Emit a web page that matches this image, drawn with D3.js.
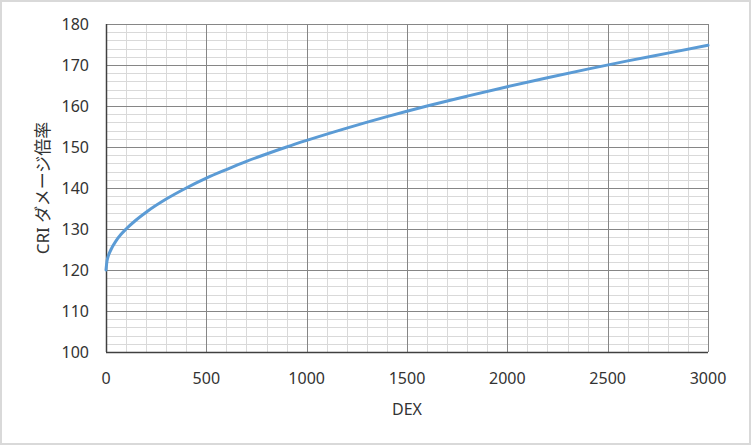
<!DOCTYPE html>
<html>
<head>
<meta charset="utf-8">
<script src="https://cdn.jsdelivr.net/npm/d3@7"></script>
<style>
  body { margin: 0; background: #fff; }
  svg { display: block; font-family: "Noto Sans", "Noto Sans CJK JP", sans-serif; }
</style>
</head>
<body>
<div id="chart"></div>
<script>
// DEX values
var dex = [0, 5, 10, 25, 50, 75, 100, 150, 200, 300, 400, 500, 600, 700, 800, 900,
           1000, 1200, 1400, 1600, 1800, 2000, 2200, 2400, 2600, 2800, 3000];
var critMult = [120, 122.2, 123.2, 125, 127.1, 128.7, 130, 132.2, 134.1, 137.3, 140, 142.4,
                144.5, 146.5, 148.3, 150, 151.6, 154.6, 157.4, 160, 162.4, 164.7, 166.9,
                169, 171, 172.9, 174.8];
var xTicks = [0, 500, 1000, 1500, 2000, 2500, 3000];
var yTicks = [100, 110, 120, 130, 140, 150, 160, 170, 180];

var width = 751, height = 445;
var margin = { left: 106, right: 43, top: 24, bottom: 93 };

var svg = d3.select("#chart").append("svg")
    .attr("width", width)
    .attr("height", height);

svg.append("rect")
    .attr("x", 1).attr("y", 1)
    .attr("width", width - 2).attr("height", height - 2)
    .attr("fill", "#fff")
    .attr("stroke", "#d9d9d9")
    .attr("stroke-width", 2);

var x = d3.scaleLinear().domain([0, 3000]).range([margin.left, width - margin.right]);
var y = d3.scaleLinear().domain([100, 180]).range([height - margin.bottom, margin.top]);

var g = svg.append("g");

// minor grid
g.selectAll(".minor-x")
    .data(d3.range(0, 3001, 100).filter(function (d) { return d % 500; }))
  .enter().append("line")
    .attr("x1", function (d) { return Math.round(x(d)) + 0.5; })
    .attr("x2", function (d) { return Math.round(x(d)) + 0.5; })
    .attr("y1", y(100)).attr("y2", y(180))
    .attr("stroke", "#d9d9d9");

g.selectAll(".minor-y")
    .data(d3.range(100, 181, 2).filter(function (d) { return d % 10; }))
  .enter().append("line")
    .attr("y1", function (d) { return Math.round(y(d)) + 0.5; })
    .attr("y2", function (d) { return Math.round(y(d)) + 0.5; })
    .attr("x1", x(0)).attr("x2", x(3000))
    .attr("stroke", "#d9d9d9");

// major grid
g.selectAll(".major-x")
    .data(xTicks.slice(1))
  .enter().append("line")
    .attr("x1", function (d) { return Math.round(x(d)) + 0.5; })
    .attr("x2", function (d) { return Math.round(x(d)) + 0.5; })
    .attr("y1", y(100)).attr("y2", y(180))
    .attr("stroke", "#868686");

g.selectAll(".major-y")
    .data(yTicks.slice(1))
  .enter().append("line")
    .attr("y1", function (d) { return Math.round(y(d)) + 0.5; })
    .attr("y2", function (d) { return Math.round(y(d)) + 0.5; })
    .attr("x1", x(0)).attr("x2", x(3000))
    .attr("stroke", "#868686");

// axes lines
g.append("line")
    .attr("x1", x(0)).attr("x2", x(3000))
    .attr("y1", Math.round(y(100)) + 0.5).attr("y2", Math.round(y(100)) + 0.5)
    .attr("stroke", "#404040").attr("stroke-width", 1.5);
g.append("line")
    .attr("x1", x(0) + 0.5).attr("x2", x(0) + 0.5)
    .attr("y1", y(100)).attr("y2", y(180))
    .attr("stroke", "#404040").attr("stroke-width", 1.5);

// tick labels
g.selectAll(".xlab")
    .data(xTicks)
  .enter().append("text")
    .attr("x", function (d) { return x(d); })
    .attr("y", y(100) + 32)
    .attr("text-anchor", "middle")
    .attr("font-size", 16)
    .attr("fill", "#333")
    .text(function (d) { return d; });

g.selectAll(".ylab")
    .data(yTicks)
  .enter().append("text")
    .attr("x", x(0) - 17)
    .attr("y", function (d) { return y(d); })
    .attr("dy", "0.36em")
    .attr("text-anchor", "end")
    .attr("font-size", 16)
    .attr("fill", "#333")
    .text(function (d) { return d; });

// axis titles
svg.append("text")
    .attr("x", (x(0) + x(3000)) / 2)
    .attr("y", y(100) + 63)
    .attr("text-anchor", "middle")
    .attr("font-size", 16)
    .attr("fill", "#333")
    .text("DEX");

svg.append("text")
    .attr("transform", "translate(49," + (y(100) + y(180)) / 2 + ") rotate(-90)")
    .attr("text-anchor", "middle")
    .attr("font-size", 17)
    .attr("fill", "#333")
    .text("CRI ダメージ倍率");

// curve
var line = d3.line()
    .x(function (d, i) { return x(dex[i]); })
    .y(function (d) { return y(d); })
    .curve(d3.curveMonotoneX);

svg.append("path")
    .datum(critMult)
    .attr("d", line)
    .attr("fill", "none")
    .attr("stroke", "#5b9bd5")
    .attr("stroke-width", 3)
    .attr("stroke-linecap", "round");
</script>
</body>
</html>
